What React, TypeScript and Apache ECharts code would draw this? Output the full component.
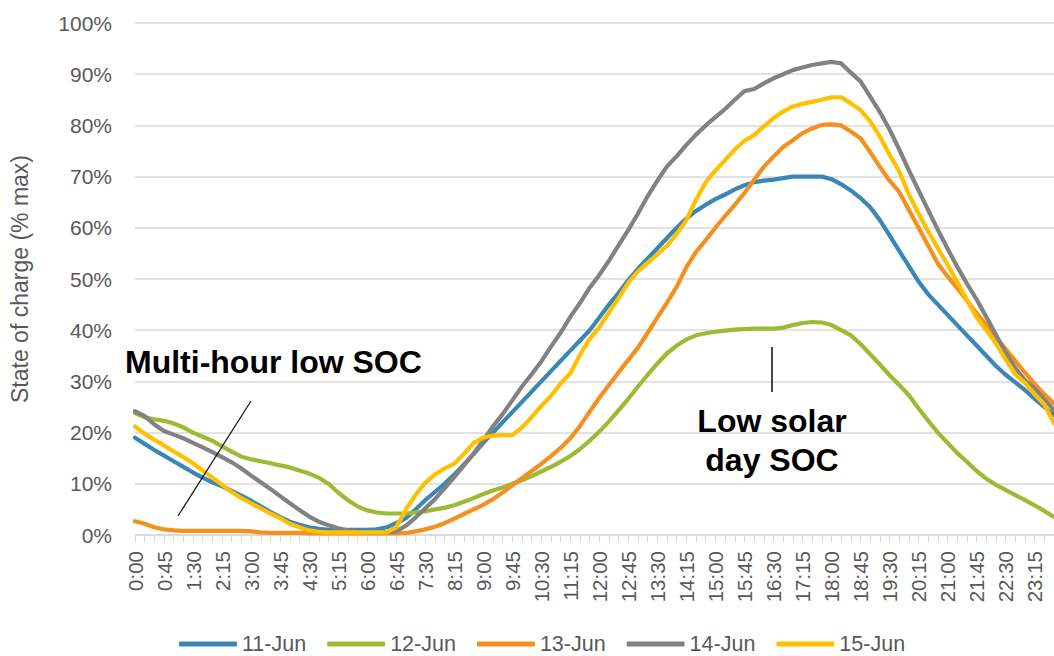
import React, { useEffect, useRef } from "react";
import * as echarts from "echarts";

const times = [
  "0:00","0:15","0:30","0:45","1:00","1:15","1:30","1:45","2:00","2:15","2:30","2:45",
  "3:00","3:15","3:30","3:45","4:00","4:15","4:30","4:45","5:00","5:15","5:30","5:45",
  "6:00","6:15","6:30","6:45","7:00","7:15","7:30","7:45","8:00","8:15","8:30","8:45",
  "9:00","9:15","9:30","9:45","10:00","10:15","10:30","10:45","11:00","11:15","11:30","11:45",
  "12:00","12:15","12:30","12:45","13:00","13:15","13:30","13:45","14:00","14:15","14:30","14:45",
  "15:00","15:15","15:30","15:45","16:00","16:15","16:30","16:45","17:00","17:15","17:30","17:45",
  "18:00","18:15","18:30","18:45","19:00","19:15","19:30","19:45","20:00","20:15","20:30","20:45",
  "21:00","21:15","21:30","21:45","22:00","22:15","22:30","22:45","23:00","23:15","23:30","23:45",
];

const jun11 = [
  19, 17.8, 16.6, 15.5, 14.4, 13.3, 12.2, 11.2, 10.3, 9.5, 8.6, 7.7,
  6.7, 5.6, 4.5, 3.5, 2.6, 2, 1.5, 1.2, 1, 1, 1, 1,
  1, 1.1, 1.5, 2.3, 3.3, 5, 6.8, 8.4, 10, 11.8, 13.8, 15.8,
  18, 20, 22, 24, 26, 28, 30, 32, 34, 36, 38, 40,
  42.5, 45, 47.3, 49.8, 52, 54, 56, 58, 60, 61.8, 63.3, 64.5,
  65.6, 66.5, 67.5, 68.3, 68.9, 69.2, 69.4, 69.7, 70, 70, 70, 70,
  69.5, 68.5, 67.3, 65.8, 64, 61.5, 58.5, 55.5, 52.5, 49.5, 47, 45,
  43, 41, 39, 37, 35, 33, 31.3, 29.8, 28.3, 26.6, 25, 23.4,
];

const jun12 = [
  23.8, 23, 22.6, 22.3, 21.8, 21, 20, 19.2, 18.4, 17.3, 16.3, 15.3,
  14.8, 14.4, 14, 13.6, 13.2, 12.6, 12, 11.2, 10, 8.3, 6.8, 5.6,
  4.8, 4.4, 4.2, 4.2, 4.2, 4.4, 4.6, 5, 5.3, 5.8, 6.5, 7.2,
  8, 8.7, 9.3, 10, 10.7, 11.5, 12.4, 13.3, 14.3, 15.4, 16.8, 18.4,
  20.2, 22.2, 24.4, 26.6, 29, 31.3, 33.5, 35.5, 37, 38.2, 39, 39.4,
  39.7, 39.9, 40.1, 40.2, 40.3, 40.3, 40.3, 40.5, 41, 41.4, 41.6, 41.5,
  41, 40, 39, 37.3, 35.3, 33.3, 31.2, 29.3, 27.3, 24.7, 22.3, 20,
  18, 16, 14.3, 12.5, 11, 9.8, 8.8, 7.8, 6.8, 5.8, 4.7, 3.5,
];

const jun13 = [
  2.7, 2.2, 1.5, 1.1, 0.9, 0.8, 0.8, 0.8, 0.8, 0.8, 0.8, 0.8,
  0.7, 0.5, 0.4, 0.4, 0.4, 0.4, 0.3, 0.3, 0.3, 0.3, 0.3, 0.3,
  0.3, 0.3, 0.3, 0.3, 0.4, 0.7, 1.1, 1.6, 2.3, 3.2, 4.1, 5,
  5.9, 7, 8.3, 9.7, 11.1, 12.5, 13.9, 15.4, 17, 18.9, 21.3, 24.1,
  26.8, 29.3, 31.8, 34.2, 36.6, 39.5, 42.5, 45.4, 48.5, 52.3, 55.3, 57.6,
  60, 62.3, 64.5, 66.8, 69.4, 71.9, 73.9, 75.8, 77.1, 78.5, 79.4, 80.1,
  80.2, 80, 78.8, 77.5, 74.8, 71.9, 69.2, 67, 63.5, 60, 56.5, 53,
  50.5, 48.2, 45.8, 43.3, 41, 38.6, 36.3, 34, 31.7, 29.5, 27.5, 25.7,
];

const jun14 = [
  24.2, 23.2, 21.6, 20.3, 19.6, 18.9, 18, 17.1, 16.2, 15.2, 14.2, 13,
  11.6, 10.3, 9, 7.6, 6.2, 4.9, 3.6, 2.6, 1.9, 1.3, 0.9, 0.6,
  0.5, 0.5, 0.5, 0.7, 1.8, 3.4, 5.2, 7, 9.1, 11.3, 13.6, 15.9,
  18.5, 21.2, 23.6, 26.3, 29, 31.4, 33.9, 36.8, 39.5, 42.6, 45.3, 48.3,
  50.8, 53.6, 56.6, 59.6, 62.8, 66.2, 69.2, 72, 74, 76.2, 78.2, 80,
  81.6, 83.2, 85, 86.7, 87.1, 88.2, 89.2, 90, 90.8, 91.3, 91.8, 92.1,
  92.4, 92.1, 90.3, 88.6, 85.6, 82.6, 79.2, 75.3, 71.2, 67.3, 63.4, 59.6,
  55.9, 52.4, 49.1, 46, 42.6, 39.1, 35.6, 32.6, 30.2, 28.6, 26.5, 24.4,
];

const jun15 = [
  21.2, 19.8, 18.6, 17.5, 16.3, 15.2, 14, 12.6, 11.2, 9.8, 8.4, 7.2,
  6.2, 5.2, 4.2, 3.3, 2.2, 1.5, 0.9, 0.6, 0.5, 0.5, 0.5, 0.5,
  0.5, 0.5, 0.5, 1.5, 5, 7.8, 10.2, 11.8, 13, 13.9, 15.8, 18,
  19, 19.4, 19.5, 19.5, 21, 23, 25.2, 27.2, 29.6, 31.6, 35.2, 38.3,
  40.6, 43.5, 46.3, 49.3, 51.5, 53.2, 54.8, 56.5, 58.8, 61.5, 65.5, 68.9,
  71.2, 73.2, 75.3, 77, 78.1, 79.8, 81.4, 82.7, 83.7, 84.2, 84.6, 85,
  85.5, 85.5, 84.3, 83, 80.8, 77.8, 74.3, 71, 66.5, 62.8, 59.3, 56,
  52.8, 49.4, 45.9, 42.5, 40, 37.4, 34.3, 31.4, 29.7, 27.5, 25.5, 21.8,
];

const seriesNames = ["11-Jun", "12-Jun", "13-Jun", "14-Jun", "15-Jun"];
const seriesData = [jun11, jun12, jun13, jun14, jun15];
const seriesColors = ["#3A87B5", "#9BBB33", "#F5901E", "#828282", "#FFC000"];

const FONT = "'Liberation Sans', Arial, sans-serif";

export default function App() {
  const ref = useRef<HTMLDivElement>(null);
  useEffect(() => {
    if (!ref.current) return;
    const chart = echarts.init(ref.current, undefined, { renderer: "svg" });
    chart.setOption({
      animation: false,
      backgroundColor: "#ffffff",
      textStyle: { fontFamily: FONT },
      grid: { left: 122, right: 0, top: 23, bottom: 121, containLabel: false },
      xAxis: {
        type: "category",
        data: times,
        boundaryGap: false,
        axisLine: { show: true, lineStyle: { color: "#D9D9D9", width: 1.5 } },
        axisTick: { show: true, interval: 0, length: 7, lineStyle: { color: "#D9D9D9", width: 1 } },
        axisLabel: {
          interval: 2,
          rotate: 90,
          margin: 16,
          color: "#595959",
          fontSize: 20.5,
          fontFamily: FONT,
        },
        splitLine: { show: false },
      },
      yAxis: {
        type: "value",
        min: 0,
        max: 100,
        interval: 10,
        name: "State of charge (% max)",
        nameLocation: "middle",
        nameRotate: 90,
        nameGap: 104,
        nameTextStyle: { color: "#595959", fontSize: 23, fontFamily: FONT },
        axisLine: { show: false },
        axisTick: { show: false },
        axisLabel: {
          formatter: "{value}%",
          color: "#595959",
          fontSize: 21,
          margin: 23,
          fontFamily: FONT,
        },
        splitLine: { show: true, lineStyle: { color: "#D9D9D9", width: 1.5 } },
      },
      legend: {
        data: seriesNames,
        left: 174,
        top: 628,
        orient: "horizontal",
        icon: "roundRect",
        itemWidth: 58,
        itemHeight: 5,
        itemGap: 21,
        textStyle: { color: "#595959", fontSize: 21.5, fontFamily: FONT },
      },
      series: seriesNames.map((name, i) => ({
        name,
        type: "line",
        data: seriesData[i],
        showSymbol: false,
        symbol: "none",
        smooth: false,
        color: seriesColors[i],
        lineStyle: { color: seriesColors[i], width: 4.2, cap: "round", join: "round" },
        itemStyle: { color: seriesColors[i] },
      })),
      graphic: [
        {
          type: "line",
          z: 100,
          shape: { x1: 178, y1: 516, x2: 251, y2: 401 },
          style: { stroke: "#1a1a1a", lineWidth: 1.3 },
        },
        {
          type: "line",
          z: 100,
          shape: { x1: 772, y1: 347, x2: 772, y2: 392 },
          style: { stroke: "#1a1a1a", lineWidth: 1.6 },
        },
        {
          type: "text",
          z: 101,
          x: 125,
          y: 362,
          style: {
            text: "Multi-hour low SOC",
            font: `bold 32px ${FONT}`,
            fill: "#000000",
            textAlign: "left",
            textVerticalAlign: "middle",
          },
        },
        {
          type: "text",
          z: 101,
          x: 772,
          y: 421,
          style: {
            text: "Low solar",
            font: `bold 32px ${FONT}`,
            fill: "#000000",
            textAlign: "center",
            textVerticalAlign: "middle",
          },
        },
        {
          type: "text",
          z: 101,
          x: 772,
          y: 460,
          style: {
            text: "day SOC",
            font: `bold 32px ${FONT}`,
            fill: "#000000",
            textAlign: "center",
            textVerticalAlign: "middle",
          },
        },
      ],
    });
    return () => chart.dispose();
  }, []);
  return (
    <div
      ref={ref}
      style={{ position: "fixed", left: 0, top: 0, width: 1054, height: 656, background: "#fff" }}
    />
  );
}
